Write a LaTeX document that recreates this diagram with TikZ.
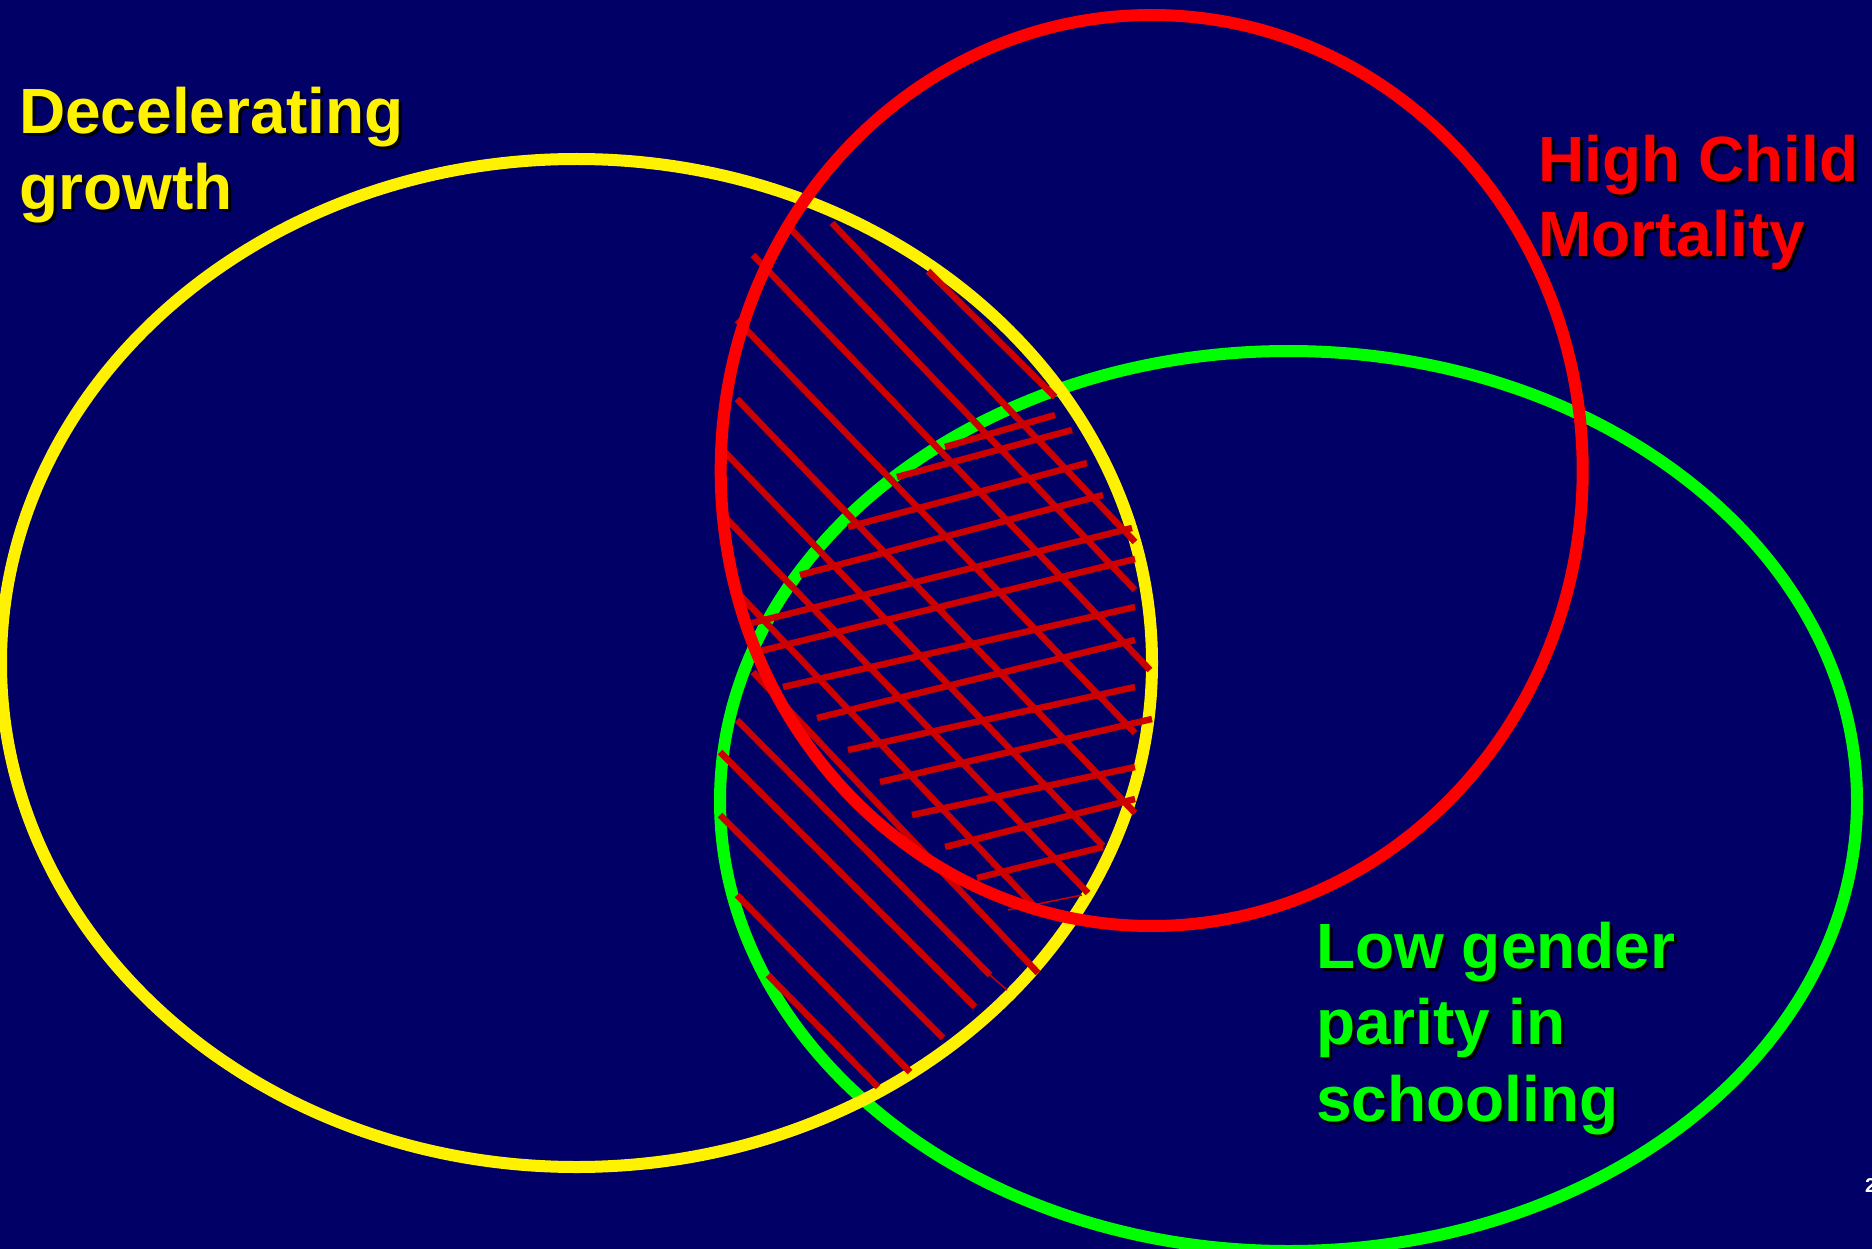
\documentclass[tikz,border=0pt]{standalone}
\usepackage{fontspec}
\setmainfont{Liberation Sans}
\definecolor{navy}{RGB}{0,0,102}
\definecolor{hatchred}{RGB}{204,0,0}
\begin{document}
\begin{tikzpicture}[x=1pt,y=-1pt,
  ring/.style={line width=12pt},
  hatch/.style={draw=hatchred, line width=6.5pt},
  thinhatch/.style={draw=hatchred, line width=1.5pt},
  lab/.style={inner sep=0pt, anchor=base west, font=\bfseries\fontsize{64}{76}\selectfont},
  shade/.style={lab, text=black}]
\useasboundingbox (0,0) rectangle (1872,1249);
\fill[navy] (0,0) rectangle (1872,1249);

% sets
\draw[ring, green] (1288.5,801) ellipse [x radius=568.5, y radius=450];
\draw[ring, yellow] (576.5,663) ellipse [x radius=575.5, y radius=504];

% hatching: diagonal strokes
\foreach \xa/\ya/\xb/\yb in {928/271/1055/397, 832/223/1135/542, 785/223/1135/590,
  753/255/1150/670, 737/320/1135/733, 737/399/1135/813,
  720/447/1103/846, 720/512/1088/893, 737/592/1038/910,
  753/672/1038/973, 737/720/990/975, 720/752/975/1007,
  720/815/943/1038, 737/895/910/1072, 768/975/878/1087}
  \draw[hatch] (\xa,\ya) -- (\xb,\yb);
% hatching: cross strokes
\foreach \xa/\ya/\xb/\yb in {945/447/1055/415, 897/477/1072/430, 848/527/1087/463,
  800/575/1103/495, 752/623/1132/528, 752/653/1135/559,
  783/687/1135/607, 817/718/1135/640, 848/750/1135/687,
  880/782/1152/719, 912/815/1135/767, 945/847/1135/799,
  977/878/1103/847}
  \draw[hatch] (\xa,\ya) -- (\xb,\yb);
\draw[thinhatch] (1008,910) -- (1082,895);
\draw[thinhatch] (990,975) -- (1007,990);

\draw[ring, red] (1151.7,470.5) ellipse [x radius=431, y radius=455.5];

% labels with drop shadow
\node[shade] (dec1s) at (22,137) {Decelerating};
\node[shade] (dec2s) at (22,213) {growth};
\node[lab, text=yellow] (dec1) at (19,134) {Decelerating};
\node[lab, text=yellow] (dec2) at (19,210) {growth};

\node[shade] (hcm1s) at (1541,185) {High Child};
\node[shade] (hcm2s) at (1541,260) {Mortality};
\node[lab, text=red] (hcm1) at (1538,182) {High Child};
\node[lab, text=red] (hcm2) at (1538,257) {Mortality};

\node[shade] (lg1s) at (1319,971) {Low gender};
\node[shade] (lg2s) at (1319,1047) {parity in};
\node[shade] (lg3s) at (1319,1124) {schooling};
\node[lab, text=green] (lg1) at (1316,968) {Low gender};
\node[lab, text=green] (lg2) at (1316,1044) {parity in};
\node[lab, text=green] (lg3) at (1316,1121) {schooling};

\node[inner sep=0pt, anchor=base west, text=white, font=\bfseries\fontsize{20}{24}\selectfont] (pg) at (1865,1192) {2};
\end{tikzpicture}
\end{document}
